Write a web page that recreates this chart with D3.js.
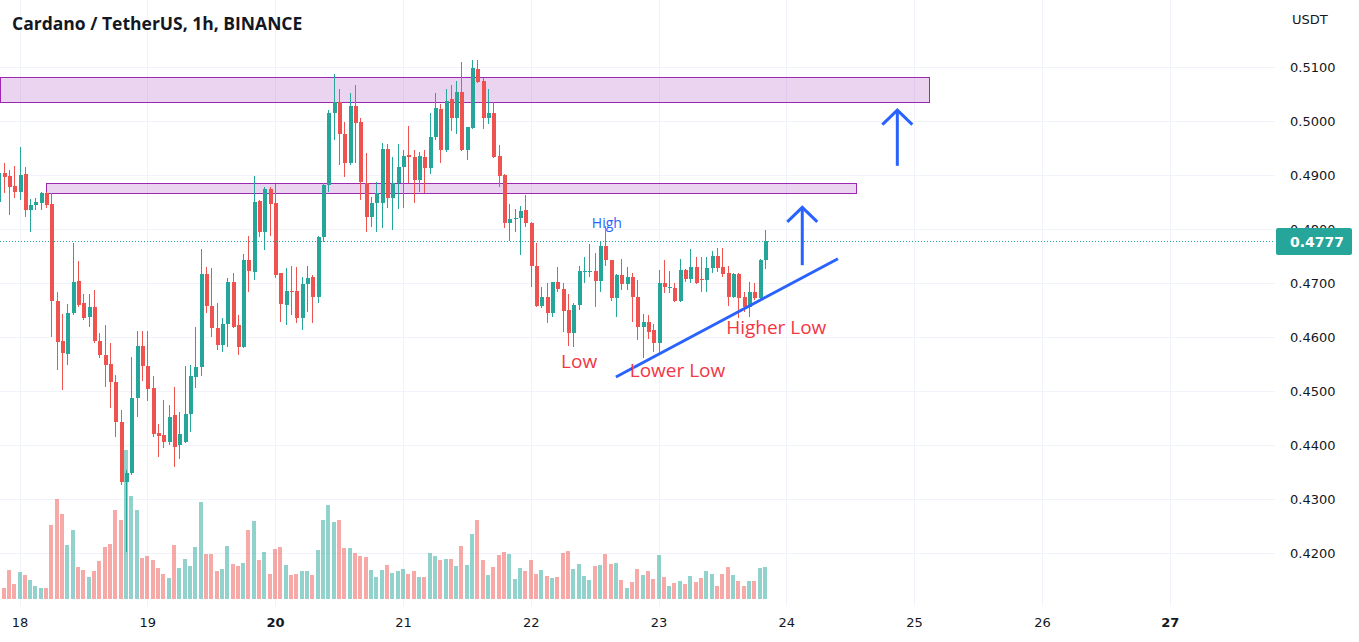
<!DOCTYPE html>
<html><head><meta charset="utf-8">
<script src="https://cdn.jsdelivr.net/npm/d3@7"></script>
<style>body{margin:0;background:#fff;overflow:hidden}svg{display:block}</style>
</head><body>
<svg id="chart" width="1359" height="642"></svg>
<script>
// hours since Jun 18 00:00, first candle
const firstHour = -4;
const opens = [0.4850,0.4903,0.4898,0.4880,0.4868,0.4902,0.4835,0.4845,0.4848,0.4866,0.4846,0.4666,0.4592,0.4569,0.4644,0.4704,0.4663,0.4637,0.4655,0.4592,0.4567,0.4550,0.4517,0.4443,0.4331,0.4348,0.4487,0.4583,0.4546,0.4506,0.4422,0.4419,0.4406,0.4455,0.4400,0.4406,0.4457,0.4526,0.4544,0.4717,0.4657,0.4617,0.4585,0.4624,0.4702,0.4622,0.4581,0.4743,0.4720,0.4852,0.4794,0.4874,0.4848,0.4718,0.4659,0.4685,0.4685,0.4635,0.4698,0.4711,0.4674,0.4785,0.4881,0.5015,0.5035,0.4976,0.4922,0.5028,0.4998,0.4885,0.4822,0.4848,0.4848,0.4948,0.4857,0.4885,0.4915,0.4937,0.4933,0.4891,0.4933,0.4913,0.4970,0.5022,0.4946,0.5041,0.5005,0.5054,0.4946,0.4987,0.5096,0.5074,0.5005,0.5015,0.4935,0.4900,0.4811,0.4819,0.4820,0.4835,0.4811,0.4731,0.4657,0.4674,0.4644,0.4702,0.4689,0.4650,0.4607,0.4659,0.4720,0.4720,0.4722,0.4704,0.4768,0.4743,0.4672,0.4715,0.4698,0.4711,0.4674,0.4618,0.4628,0.4613,0.4589,0.4700,0.4691,0.4691,0.4666,0.4724,0.4707,0.4730,0.4707,0.4706,0.4728,0.4750,0.4730,0.4718,0.4674,0.4717,0.4674,0.4655,0.4683,0.4672,0.4743];
const highs = [0.4919,0.4922,0.4909,0.4917,0.4952,0.4915,0.4856,0.4857,0.4868,0.4868,0.4866,0.4683,0.4643,0.4661,0.4774,0.4741,0.4680,0.4680,0.4687,0.4607,0.4622,0.4589,0.4530,0.4465,0.4354,0.4563,0.4611,0.4611,0.4611,0.4528,0.4439,0.4483,0.4474,0.4507,0.4461,0.4546,0.4548,0.4618,0.4763,0.4730,0.4728,0.4663,0.4635,0.4709,0.4718,0.4641,0.4754,0.4787,0.4898,0.4854,0.4878,0.4878,0.4883,0.4718,0.4728,0.4731,0.4730,0.4711,0.4731,0.4715,0.4787,0.4885,0.5020,0.5087,0.5059,0.4998,0.5052,0.5067,0.5005,0.4941,0.4859,0.4887,0.4959,0.4957,0.4933,0.4957,0.4946,0.4991,0.4946,0.4943,0.4946,0.5015,0.5052,0.5031,0.5059,0.5067,0.5074,0.5109,0.4989,0.5113,0.5113,0.5080,0.5059,0.5035,0.4955,0.4902,0.4846,0.4837,0.4843,0.4863,0.4813,0.4774,0.4693,0.4700,0.4702,0.4730,0.4700,0.4680,0.4663,0.4731,0.4748,0.4772,0.4756,0.4776,0.4806,0.4743,0.4717,0.4744,0.4730,0.4718,0.4706,0.4643,0.4641,0.4624,0.4724,0.4743,0.4722,0.4700,0.4744,0.4726,0.4763,0.4748,0.4748,0.4748,0.4759,0.4765,0.4765,0.4731,0.4718,0.4718,0.4683,0.4702,0.4700,0.4744,0.4798];
const lows = [0.4845,0.4866,0.4826,0.4857,0.4854,0.4822,0.4794,0.4835,0.4835,0.4839,0.4600,0.4539,0.4502,0.4548,0.4641,0.4655,0.4631,0.4618,0.4589,0.4561,0.4507,0.4468,0.4415,0.4326,0.4202,0.4344,0.4452,0.4518,0.4481,0.4415,0.4378,0.4394,0.4400,0.4359,0.4374,0.4404,0.4424,0.4506,0.4528,0.4644,0.4600,0.4576,0.4572,0.4581,0.4617,0.4567,0.4579,0.4683,0.4706,0.4785,0.4761,0.4787,0.4709,0.4628,0.4622,0.4641,0.4626,0.4613,0.4646,0.4626,0.4663,0.4776,0.4868,0.4965,0.4919,0.4896,0.4919,0.4922,0.4854,0.4794,0.4804,0.4794,0.4802,0.4839,0.4798,0.4837,0.4839,0.4885,0.4848,0.4868,0.4866,0.4902,0.4965,0.4922,0.4943,0.4981,0.4976,0.4944,0.4928,0.4985,0.5070,0.4985,0.4994,0.4931,0.4878,0.4802,0.4778,0.4794,0.4752,0.4804,0.4693,0.4655,0.4654,0.4626,0.4637,0.4683,0.4609,0.4583,0.4581,0.4650,0.4700,0.4711,0.4655,0.4683,0.4731,0.4666,0.4637,0.4687,0.4687,0.4628,0.4594,0.4561,0.4596,0.4572,0.4570,0.4681,0.4681,0.4665,0.4665,0.4702,0.4700,0.4698,0.4683,0.4683,0.4718,0.4720,0.4711,0.4657,0.4672,0.4635,0.4646,0.4637,0.4668,0.4666,0.4726];
const closes = [0.4903,0.4896,0.4878,0.4868,0.4900,0.4835,0.4845,0.4850,0.4866,0.4845,0.4666,0.4591,0.4570,0.4644,0.4702,0.4659,0.4635,0.4655,0.4592,0.4567,0.4548,0.4517,0.4443,0.4331,0.4348,0.4487,0.4583,0.4546,0.4504,0.4420,0.4417,0.4406,0.4452,0.4396,0.4420,0.4457,0.4528,0.4544,0.4717,0.4657,0.4617,0.4585,0.4624,0.4702,0.4618,0.4581,0.4743,0.4722,0.4850,0.4794,0.4874,0.4846,0.4715,0.4661,0.4685,0.4683,0.4635,0.4698,0.4709,0.4674,0.4785,0.4881,0.5015,0.5035,0.4976,0.4922,0.5028,0.4996,0.4887,0.4822,0.4848,0.4866,0.4948,0.4857,0.4885,0.4915,0.4935,0.4933,0.4891,0.4935,0.4913,0.4970,0.5024,0.4946,0.5037,0.5005,0.5054,0.4946,0.4989,0.5098,0.5072,0.5005,0.5015,0.4933,0.4898,0.4811,0.4819,0.4820,0.4833,0.4811,0.4731,0.4657,0.4674,0.4644,0.4702,0.4689,0.4648,0.4607,0.4659,0.4722,0.4722,0.4722,0.4704,0.4768,0.4743,0.4672,0.4715,0.4698,0.4711,0.4674,0.4618,0.4628,0.4609,0.4589,0.4700,0.4693,0.4693,0.4666,0.4724,0.4707,0.4730,0.4700,0.4706,0.4728,0.4750,0.4728,0.4717,0.4674,0.4717,0.4672,0.4655,0.4683,0.4672,0.4743,0.4777];
const volumes = [2.1,1.1,2.9,1.5,2.7,2.4,1.9,1.3,1.1,1.1,7.4,10.0,8.5,5.4,6.9,3.2,2.9,2.2,2.8,3.8,5.2,5.5,8.9,7.9,14.9,10.3,8.9,4.1,4.3,3.9,3.1,2.5,2.1,5.4,3.1,4.0,3.3,5.2,9.7,4.5,4.5,2.8,3.0,5.3,3.5,3.3,3.6,6.9,7.8,3.9,4.7,2.5,5.0,5.2,3.4,2.4,2.5,2.8,2.8,2.4,4.9,7.9,9.4,7.7,7.9,5.1,5.1,4.6,4.3,4.2,2.9,2.2,2.9,3.4,2.6,2.8,3.0,2.5,2.8,2.2,2.2,4.6,4.3,3.9,4.0,4.0,3.3,5.3,3.4,6.5,7.9,3.9,2.4,3.2,4.4,4.7,4.5,2.0,3.1,2.8,3.9,2.5,2.9,2.3,2.1,2.2,4.6,4.8,3.0,3.5,2.3,1.9,3.3,3.4,4.5,3.5,3.6,1.9,1.1,1.7,3.0,2.4,2.8,2.0,4.4,2.2,1.3,1.6,1.8,1.5,2.3,1.7,2.1,2.8,2.5,1.3,2.5,3.2,2.4,1.8,1.3,1.8,1.8,3.1,3.2];

const dayLabels = ["18","19","20","21","22","23","24","25","26","27"];
const boldDays = ["20","27"];
const priceTicks = [0.42,0.43,0.44,0.45,0.46,0.47,0.48,0.49,0.50,0.51];
const lastPrice = 0.4777;
// zones: [fromHour, toHour, lowPrice, highPrice]
const zoneFrom = [-3.7, 5.07];
const zoneTo = [170.8, 157.1];
const zoneLow = [0.5035, 0.4866];
const zoneHigh = [0.5081, 0.4886];
// trend line endpoints [hour, price]
const trendHours = [112.0, 153.7];
const trendPrices = [0.4526, 0.4745];
// arrows: hour, base price, tip price
const arrowHours = [164.85, 147.0];
const arrowBase = [0.4917, 0.4733];
const arrowTip = [0.5020, 0.4840];
// annotations
const noteText = ["High","Low","Lower Low","Higher Low"];
const noteHour = [110.3, 101.7, 114.6, 132.7];
const notePrice = [0.4802, 0.4543, 0.4526, 0.4606];

const W = 1359, H = 642, plotRight = 1275;
const x = d3.scaleLinear().domain([0, 216]).range([19.5, 19.5 + 216*5.325]);
const y = d3.scaleLinear().domain([0.42, 0.51]).range([553, 67]);
const yv = d3.scaleLinear().domain([0, 15]).range([599, 449]);

const UP = "#26a69a", DOWN = "#ef5350";
const svg = d3.select("#chart");
svg.append("rect").attr("width", W).attr("height", H).attr("fill", "#fff");
const defs = svg.append("defs");
defs.append("clipPath").attr("id","clip").append("rect")
  .attr("x",0).attr("y",0).attr("width",plotRight).attr("height",606);

const dayHours = dayLabels.map((d,i)=>i*24);

// grid
const grid = svg.append("g").attr("shape-rendering","crispEdges");
grid.selectAll(".h").data(priceTicks).join("line")
  .attr("x1",0).attr("x2",plotRight)
  .attr("y1",d=>Math.round(y(d))+0.5).attr("y2",d=>Math.round(y(d))+0.5)
  .attr("stroke","#f0f3fa").attr("stroke-width",1);
grid.selectAll(".v").data(dayHours).join("line")
  .attr("y1",0).attr("y2",606)
  .attr("x1",d=>Math.round(x(d))+0.5).attr("x2",d=>Math.round(x(d))+0.5)
  .attr("stroke","#f0f3fa").attr("stroke-width",1);

const candles = opens.map((o,i)=>({h:firstHour+i,o,hi:highs[i],lo:lows[i],c:closes[i],v:volumes[i]}));
const plot = svg.append("g").attr("clip-path","url(#clip)");

// volume
plot.append("g").attr("shape-rendering","crispEdges").selectAll("rect").data(candles).join("rect")
  .attr("x",d=>Math.round(x(d.h))-2).attr("width",4)
  .attr("y",d=>yv(d.v)).attr("height",d=>yv(0)-yv(d.v))
  .attr("fill",d=>d.c>=d.o?UP:DOWN).attr("fill-opacity",0.5);

// zones
const zoneIdx = zoneFrom.map((d,i)=>i);
plot.append("g").selectAll("rect").data(zoneIdx).join("rect")
  .attr("x",i=>Math.round(x(zoneFrom[i]))+0.5)
  .attr("width",i=>Math.round(x(zoneTo[i]))-Math.round(x(zoneFrom[i])))
  .attr("y",i=>Math.round(y(zoneHigh[i]))+0.5)
  .attr("height",i=>Math.round(y(zoneLow[i]))-Math.round(y(zoneHigh[i])))
  .attr("fill","rgba(156,39,176,0.2)").attr("stroke","#9c27b0").attr("stroke-width",1);

// candles
const cg = plot.append("g").attr("shape-rendering","crispEdges");
cg.selectAll(".w").data(candles).join("rect")
  .attr("x",d=>Math.round(x(d.h))).attr("width",1)
  .attr("y",d=>y(d.hi)).attr("height",d=>Math.max(1,y(d.lo)-y(d.hi)))
  .attr("fill",d=>d.c>=d.o?UP:DOWN);
cg.selectAll(".b").data(candles).join("rect")
  .attr("x",d=>Math.round(x(d.h))-1.5).attr("width",4)
  .attr("y",d=>y(Math.max(d.o,d.c))).attr("height",d=>Math.max(1,Math.abs(y(d.o)-y(d.c))))
  .attr("fill",d=>d.c>=d.o?UP:DOWN);

// last price dotted line
svg.append("line").attr("x1",0).attr("x2",plotRight)
  .attr("y1",Math.round(y(lastPrice))+0.5).attr("y2",Math.round(y(lastPrice))+0.5)
  .attr("stroke",UP).attr("stroke-width",1).attr("stroke-dasharray","1 2");

// trend line
svg.append("line")
  .attr("x1",x(trendHours[0])).attr("y1",y(trendPrices[0]))
  .attr("x2",x(trendHours[1])).attr("y2",y(trendPrices[1]))
  .attr("stroke","#2962ff").attr("stroke-width",3);

// arrows
const ag = svg.append("g").attr("stroke","#2962ff").attr("stroke-width",3).attr("fill","none");
arrowHours.forEach((h,i)=>{
  const ax = x(h), ab = y(arrowBase[i]), at = y(arrowTip[i]);
  ag.append("line").attr("x1",ax).attr("x2",ax).attr("y1",ab).attr("y2",at);
  ag.append("path").attr("d",`M${ax-15},${at+14.5}L${ax},${at}L${ax+15},${at+14.5}`);
});

// annotations
const noteColor = ["#2962ff","#f23645","#f23645","#f23645"];
const noteSize = [14,19,19,19];
const noteAnchor = ["middle","start","start","start"];
noteText.forEach((t,i)=>{
  svg.append("text").attr("x",x(noteHour[i])).attr("y",y(notePrice[i]))
    .attr("text-anchor",noteAnchor[i]).attr("fill",noteColor[i])
    .attr("font-family","'Open Sans', sans-serif").attr("font-size",noteSize[i])
    .text(t);
});

// price axis (label under the last-price badge is partly hidden, as in the original)
const yAxis = d3.axisRight(y).tickValues(priceTicks).tickFormat(d3.format(".4f")).tickSize(0).tickPadding(8);
const ya = svg.append("g").attr("transform","translate(1282,0)").call(yAxis);
ya.select(".domain").remove();
ya.selectAll("text").attr("font-family","'DejaVu Sans', sans-serif").attr("font-size",13).attr("fill","#131722");
svg.append("text").attr("x",1292).attr("y",24).text("USDT")
  .attr("font-family","'DejaVu Sans', sans-serif").attr("font-size",13).attr("fill","#131722");

// last price label
svg.append("rect").attr("x",1276).attr("y",y(lastPrice)-13.5).attr("width",76).attr("height",27)
  .attr("rx",2).attr("fill",UP);
svg.append("text").attr("x",1290).attr("y",y(lastPrice)+5.5).text(d3.format(".4f")(lastPrice))
  .attr("font-family","'DejaVu Sans', sans-serif").attr("font-size",14).attr("font-weight","bold").attr("fill","#fff");

// time axis
const xAxis = d3.axisBottom(x).tickValues(dayHours).tickFormat((d,i)=>dayLabels[i]).tickSize(0).tickPadding(8);
const xa = svg.append("g").attr("transform","translate(0,610)").call(xAxis);
xa.select(".domain").remove();
xa.selectAll("text").attr("font-family","'DejaVu Sans', sans-serif").attr("font-size",13).attr("fill","#131722")
  .attr("font-weight",(d,i)=>boldDays.includes(dayLabels[i])?"bold":"normal");

// title
svg.append("text").attr("x",12).attr("y",30).text("Cardano / TetherUS, 1h, BINANCE")
  .attr("font-family","'Open Sans', sans-serif").attr("font-size",17.5).attr("font-weight","bold").attr("fill","#131722");
</script>
</body></html>
